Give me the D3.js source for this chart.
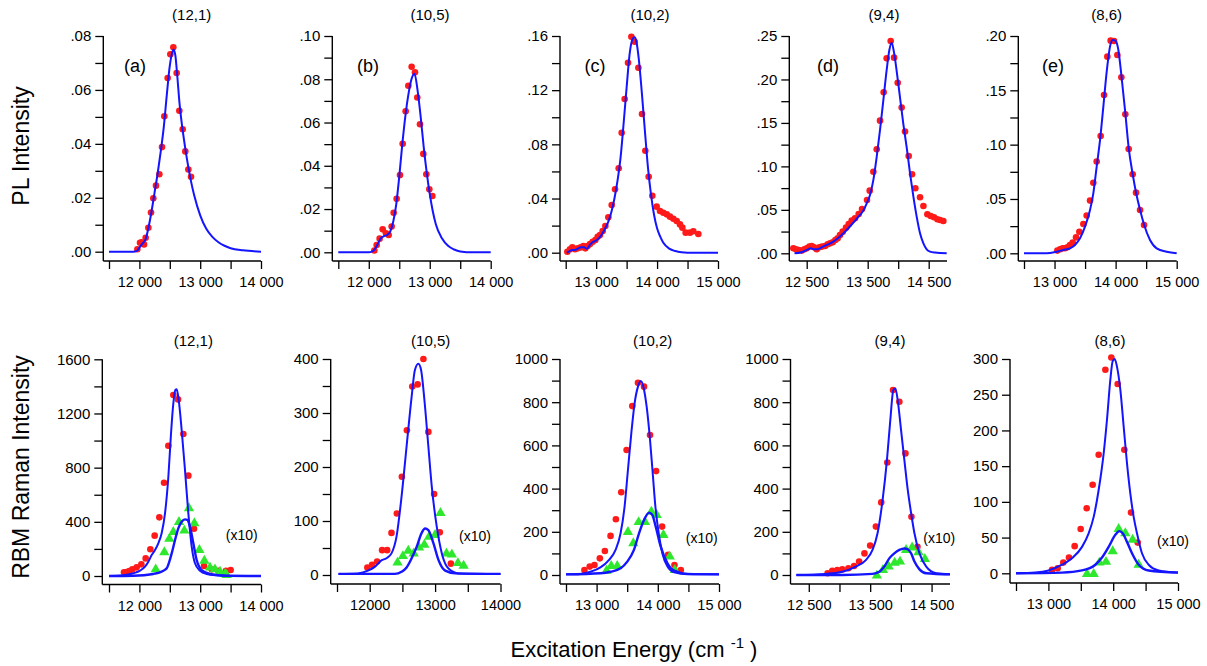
<!DOCTYPE html>
<html><head><meta charset="utf-8">
<script src="https://cdn.jsdelivr.net/npm/d3@7"></script>
<style>html,body{margin:0;padding:0;background:#fff;} svg{display:block;}</style>
</head><body><svg id="chart" width="1207" height="666"></svg>
<script>
// ---------------- DATA ----------------
const chiralities = ["(12,1)", "(10,5)", "(10,2)", "(9,4)", "(8,6)"];
const panelLetters = ["(a)", "(b)", "(c)", "(d)", "(e)"];
const yTitleTop = "PL Intensity";
const yTitleBottom = "RBM Raman Intensity";
const xTitle = "Excitation Energy (cm";
const xTitleSup = "-1";
const scaleNote = "(x10)";

// PL (top row): red dots = measured, blue = fit  [excitation cm-1, intensity]
const plA_dots = [[11966,0.0009],[12010,0.0033],[12037,0.0035],[12076,0.0027],[12103,0.0052],[12147,0.0089],[12191,0.0145],[12229,0.0198],[12273,0.0245],[12328,0.0287],[12372,0.0388],[12410,0.0502],[12465,0.0644],[12509,0.0732],[12558,0.0758],[12613,0.0663],[12657,0.0523],[12712,0.0454],[12755,0.0372],[12805,0.0305],[12849,0.0278]];
const plA_fit = [[11500,0],[11700,0],[11900,0],[11960,0.0003],[12000,0.0015],[12050,0.003],[12100,0.0045],[12150,0.009],[12200,0.015],[12250,0.022],[12300,0.029],[12350,0.037],[12400,0.046],[12450,0.058],[12500,0.069],[12530,0.073],[12560,0.075],[12590,0.073],[12620,0.066],[12660,0.055],[12700,0.047],[12750,0.039],[12800,0.032],[12850,0.026],[12900,0.021],[13000,0.0135],[13100,0.0085],[13200,0.0055],[13300,0.0035],[13400,0.0022],[13500,0.0013],[13700,0.0005],[14000,0]];

const plB_dots = [[12091,0.0008],[12129,0.0034],[12178,0.0063],[12228,0.0106],[12282,0.0088],[12326,0.0080],[12375,0.0119],[12408,0.0183],[12457,0.0247],[12512,0.0357],[12556,0.0502],[12605,0.0652],[12649,0.0770],[12703,0.0858],[12758,0.0832],[12796,0.0716],[12840,0.0592],[12895,0.0455],[12944,0.0361],[12993,0.0291],[13043,0.0260]];
const plB_fit = [[11500,0],[11800,0],[12000,0],[12050,0.0003],[12100,0.0015],[12150,0.004],[12200,0.0065],[12250,0.0075],[12300,0.008],[12350,0.0095],[12400,0.014],[12450,0.022],[12500,0.035],[12550,0.050],[12600,0.063],[12650,0.073],[12700,0.080],[12750,0.0825],[12800,0.075],[12850,0.063],[12900,0.049],[12950,0.037],[13000,0.027],[13050,0.019],[13100,0.013],[13200,0.0065],[13300,0.003],[13400,0.0013],[13500,0.0004],[13700,0],[14000,0]];

const plC_dots = [[12527,0.0007],[12571,0.0025],[12609,0.0039],[12653,0.0025],[12697,0.0032],[12746,0.0039],[12790,0.0049],[12823,0.0032],[12861,0.0049],[12899,0.0064],[12943,0.0081],[12987,0.0094],[13025,0.0118],[13063,0.0131],[13107,0.0160],[13151,0.0197],[13200,0.0261],[13255,0.0352],[13310,0.0468],[13370,0.0623],[13419,0.0886],[13468,0.1135],[13523,0.1403],[13578,0.1595],[13632,0.1558],[13693,0.1366],[13753,0.1024],[13807,0.0753],[13862,0.0561],[13922,0.0421],[13993,0.0340],[14048,0.0308],[14103,0.0295],[14158,0.0283],[14212,0.0266],[14267,0.0251],[14322,0.0234],[14376,0.0209],[14415,0.0185],[14469,0.0148],[14540,0.0148],[14595,0.0158],[14677,0.0138]];
const plC_fit = [[12520,0],[12560,0.001],[12600,0.002],[12650,0.002],[12700,0.003],[12750,0.004],[12800,0.004],[12850,0.003],[12900,0.006],[12950,0.008],[13000,0.009],[13050,0.011],[13100,0.014],[13150,0.018],[13200,0.023],[13250,0.030],[13300,0.040],[13350,0.053],[13400,0.070],[13450,0.095],[13500,0.122],[13550,0.147],[13600,0.158],[13630,0.159],[13660,0.156],[13700,0.143],[13750,0.118],[13800,0.090],[13850,0.063],[13900,0.043],[13950,0.028],[14000,0.018],[14050,0.012],[14100,0.0075],[14200,0.003],[14300,0.0012],[14400,0.0004],[14600,0],[15000,0]];

const plD_dots = [[12281,0.0058],[12325,0.0046],[12369,0.0038],[12418,0.0031],[12462,0.0046],[12500,0.0058],[12544,0.0077],[12582,0.0084],[12620,0.0069],[12664,0.0046],[12708,0.0069],[12751,0.0077],[12801,0.0084],[12844,0.0104],[12883,0.0115],[12926,0.0127],[12970,0.0153],[13008,0.0173],[13046,0.0211],[13090,0.0249],[13145,0.0295],[13189,0.0337],[13238,0.0376],[13292,0.0403],[13352,0.0452],[13407,0.0510],[13489,0.0613],[13533,0.0721],[13593,0.0939],[13648,0.1196],[13702,0.1526],[13762,0.1852],[13811,0.2243],[13877,0.2442],[13932,0.2251],[13992,0.1963],[14057,0.1676],[14112,0.1400],[14172,0.1120],[14227,0.0909],[14281,0.0748],[14358,0.0644],[14413,0.0544],[14478,0.0449],[14533,0.0429],[14587,0.0414],[14642,0.0391],[14686,0.0383],[14740,0.0372]];
const plD_fit = [[12300,0],[12418,0.0012],[12500,0.0038],[12571,0.0058],[12620,0.0046],[12675,0.0046],[12746,0.0069],[12828,0.0096],[12937,0.0134],[13046,0.0192],[13156,0.0268],[13265,0.0353],[13374,0.0441],[13429,0.0491],[13484,0.0575],[13538,0.0671],[13593,0.0844],[13648,0.1112],[13702,0.1419],[13757,0.1764],[13811,0.2109],[13855,0.2339],[13893,0.2423],[13932,0.2308],[13975,0.2097],[14030,0.1790],[14085,0.1484],[14139,0.1219],[14194,0.0920],[14249,0.0652],[14303,0.0422],[14358,0.0230],[14413,0.0115],[14467,0.0046],[14522,0.0019],[14604,0.0008],[14795,0]];

const plE_dots = [[13046,0.0025],[13090,0.0037],[13133,0.0046],[13171,0.0046],[13210,0.0055],[13253,0.0077],[13297,0.0098],[13352,0.0147],[13406,0.0199],[13472,0.0270],[13526,0.0347],[13581,0.0485],[13635,0.0650],[13690,0.0844],[13755,0.1080],[13810,0.1457],[13865,0.1810],[13919,0.1957],[13974,0.1954],[14028,0.1825],[14094,0.1620],[14159,0.1279],[14214,0.0960],[14279,0.0727],[14334,0.0558],[14400,0.0399],[14465,0.0261]];
const plE_fit = [[12500,0],[12871,0],[13035,0.0015],[13144,0.0031],[13253,0.0046],[13335,0.0077],[13417,0.0138],[13499,0.0245],[13581,0.0399],[13635,0.0552],[13690,0.0798],[13745,0.1043],[13799,0.1350],[13854,0.1672],[13908,0.1902],[13952,0.1963],[13996,0.1957],[14045,0.1871],[14094,0.1640],[14159,0.1290],[14214,0.0970],[14279,0.0730],[14334,0.0560],[14400,0.0400],[14465,0.0265],[14563,0.0123],[14672,0.0046],[14836,0.0015],[15000,0]];

// RBM Raman (bottom row): red = measured, green = measured (x10), blue = fits
const rbA_red = [[11747,27],[11791,30],[11834,37],[11884,49],[11955,64],[12032,86],[12103,130],[12180,197],[12251,298],[12328,433],[12405,689],[12476,962],[12558,1336],[12635,1304],[12723,1049],[12805,741],[12898,349],[13063,74],[13189,49],[13298,39],[13424,39],[13501,44]];
const rbA_green = [[12268,49],[12410,175],[12492,274],[12558,325],[12651,399],[12739,335],[12816,500],[12904,389],[12986,192],[13068,113],[13161,62],[13243,49],[13326,32],[13408,15],[13435,7]];
const rbA_fit = [[11500,0],[11736,5],[11900,20],[12010,39],[12092,69],[12147,106],[12202,155],[12257,192],[12311,241],[12366,315],[12421,462],[12476,731],[12520,1052],[12558,1274],[12591,1373],[12613,1378],[12646,1300],[12695,1078],[12750,782],[12805,462],[12860,217],[12914,94],[12997,39],[13106,15],[13271,5],[13545,0],[14000,0]];
const rbA_fit10 = [[11500,0],[11900,2],[12229,15],[12394,39],[12449,57],[12492,106],[12531,167],[12586,266],[12640,352],[12695,401],[12750,418],[12788,414],[12832,365],[12887,242],[12942,118],[13024,44],[13161,15],[13435,2],[14000,0]];

const rbB_red = [[11964,14],[12036,19],[12113,25],[12190,46],[12267,46],[12333,78],[12415,114],[12492,182],[12569,268],[12651,349],[12733,353],[12821,400],[12897,265],[12985,150],[13072,79],[13241,21]];
const rbB_green = [[12426,23],[12508,35],[12590,45],[12672,40],[12754,51],[12836,56],[12908,71],[13000,74],[13082,115],[13174,40],[13256,38],[13349,22],[13436,17]];
const rbB_fit = [[11523,2],[11821,3],[11974,8],[12077,15],[12179,27],[12256,31],[12333,40],[12410,71],[12487,145],[12564,238],[12641,330],[12692,380],[12744,391],[12785,380],[12836,325],[12897,238],[12949,164],[13026,89],[13103,40],[13205,12],[13359,3],[14000,2]];
const rbB_fit10 = [[11523,2],[12385,2],[12487,6],[12564,14],[12641,31],[12718,52],[12795,78],[12846,86],[12897,83],[12974,59],[13051,28],[13154,8],[13308,3],[14000,2]];

const rbC_red = [[12801,23],[12888,39],[12965,46],[13053,77],[13135,111],[13228,181],[13315,258],[13403,383],[13490,579],[13583,782],[13676,890],[13775,872],[13873,648],[13972,481],[14070,224],[14168,94],[14272,46],[14376,23]];
const rbC_green = [[13162,20],[13239,42],[13337,42],[13512,199],[13600,147],[13687,245],[13791,245],[13895,293],[13982,278],[14092,185],[14196,85],[14278,23]];
const rbC_fit = [[12500,3],[12735,5],[12899,15],[13063,35],[13200,69],[13310,116],[13392,193],[13457,316],[13512,486],[13567,656],[13621,795],[13676,872],[13720,898],[13764,872],[13818,779],[13873,625],[13917,471],[13961,316],[14015,193],[14075,100],[14158,39],[14267,12],[14486,3],[15000,3]];
const rbC_fit10 = [[12500,3],[13063,8],[13228,15],[13392,31],[13501,62],[13610,116],[13693,193],[13775,255],[13857,289],[13911,278],[13966,224],[14048,131],[14158,54],[14267,20],[14486,5],[15000,3]];

const rbD_red = [[12806,8],[12883,20],[12964,23],[13046,26],[13145,31],[13238,42],[13320,62],[13407,100],[13500,136],[13593,224],[13680,336],[13779,521],[13872,856],[13975,802],[14074,563],[14172,270],[14270,131]];
const rbD_green = [[13609,-3],[13708,23],[13801,39],[13899,57],[13986,62],[14085,116],[14183,127],[14287,105],[14391,74]];
const rbD_fit = [[12298,0],[12773,5],[13046,15],[13265,39],[13429,69],[13538,116],[13620,193],[13702,347],[13773,532],[13828,718],[13877,856],[13910,864],[13948,810],[14003,671],[14057,532],[14112,394],[14167,286],[14221,193],[14303,100],[14413,39],[14577,8],[14800,3]];
const rbD_fit10 = [[12298,0],[13046,0],[13538,5],[13648,15],[13730,39],[13811,77],[13893,100],[13975,116],[14057,123],[14112,119],[14167,100],[14221,62],[14303,26],[14413,8],[14800,3]];

const rbE_red = [[13056,5],[13143,7],[13230,15],[13318,22],[13405,38],[13498,62],[13591,91],[13683,124],[13776,166],[13879,285],[13971,302],[14069,265],[14172,173],[14275,85],[14378,43]];
const rbE_green = [[13596,-1],[13699,-1],[13786,15],[13889,16],[13992,31],[14084,62],[14187,56],[14300,47],[14393,12]];
const rbE_fit = [[12500,0],[12798,1],[13004,4],[13210,12],[13364,21],[13519,37],[13621,56],[13699,79],[13776,117],[13853,168],[13904,215],[13956,271],[13992,297],[14023,300],[14059,289],[14110,257],[14162,205],[14213,154],[14264,112],[14316,79],[14367,56],[14444,28],[14547,12],[14702,4],[15000,1]];
const rbE_fit10 = [[12500,0],[13210,1],[13519,4],[13724,12],[13827,22],[13930,37],[14033,54],[14095,59],[14146,56],[14213,44],[14290,28],[14393,12],[14547,4],[15000,1]];

// Tick values and labels
const xTicksAB = [11500, 12000, 12500, 13000, 13500, 14000];
const xLabelsAB = ["", "12 000", "", "13 000", "", "14 000"];
const xLabelsABnoSpace = ["", "12000", "", "13000", "", "14000"];
const xTicksCE = [12500, 13000, 13500, 14000, 14500, 15000];
const xLabelsCE = ["", "13 000", "", "14 000", "", "15 000"];
const xTicksD = [12500, 13000, 13500, 14000, 14500];
const xLabelsD = ["12 500", "", "13 500", "", "14 500"];

const yTicksPlA = [0, .01, .02, .03, .04, .05, .06, .07, .08];
const yLabelsPlA = [".00", "", ".02", "", ".04", "", ".06", "", ".08"];
const yTicksPlB = [0, .01, .02, .03, .04, .05, .06, .07, .08, .09, .10];
const yLabelsPlB = [".00", "", ".02", "", ".04", "", ".06", "", ".08", "", ".10"];
const yTicksPlC = [0, .02, .04, .06, .08, .10, .12, .14, .16];
const yLabelsPlC = [".00", "", ".04", "", ".08", "", ".12", "", ".16"];
const yTicksPlD = [0, .025, .05, .075, .10, .125, .15, .175, .20, .225, .25];
const yLabelsPlD = [".00", "", ".05", "", ".10", "", ".15", "", ".20", "", ".25"];
const yTicksPlE = [0, .025, .05, .075, .10, .125, .15, .175, .20];
const yLabelsPlE = [".00", "", ".05", "", ".10", "", ".15", "", ".20"];

const yTicksRbA = [0, 200, 400, 600, 800, 1000, 1200, 1400, 1600];
const yLabelsRbA = ["0", "", "400", "", "800", "", "1200", "", "1600"];
const yTicksRbB = [0, 50, 100, 150, 200, 250, 300, 350, 400];
const yLabelsRbB = ["0", "", "100", "", "200", "", "300", "", "400"];
const yTicksRbCD = [0, 100, 200, 300, 400, 500, 600, 700, 800, 900, 1000];
const yLabelsRbCD = ["0", "", "200", "", "400", "", "600", "", "800", "", "1000"];
const yTicksRbE = [0, 50, 100, 150, 200, 250, 300];
const yLabelsRbE = ["0", "50", "100", "150", "200", "250", "300"];

// ---------------- LAYOUT ----------------
const FONT = "'Liberation Sans', Arial, Helvetica, sans-serif";
const BLUE = "#1414ff", RED = "#ff1a1a", GREEN = "#2ee82e";

const panels = [
  // top row (PL)
  {xDomain:[11500,14000], xRange:[109,261], yMax:0.08, yRange:[251.7,36], axisX:103.3, axisY:261,
   xTicks:xTicksAB, xLabels:xLabelsAB, yTicks:yTicksPlA, yLabels:yLabelsPlA,
   title:chiralities[0], titleX:191.7, titleY:20, letter:panelLetters[0], letterX:135, letterY:72,
   dots:plA_dots, fits:[plA_fit]},
  {xDomain:[11500,14000], xRange:[338.3,490.7], yMax:0.10, yRange:[252.3,36], axisX:332.3, axisY:261,
   xTicks:xTicksAB, xLabels:xLabelsAB, yTicks:yTicksPlB, yLabels:yLabelsPlB,
   title:chiralities[1], titleX:430, titleY:20, letter:panelLetters[1], letterX:368, letterY:72,
   dots:plB_dots, fits:[plB_fit]},
  {xDomain:[12500,15000], xRange:[565.7,718], yMax:0.16, yRange:[252.7,36], axisX:560, axisY:261,
   xTicks:xTicksCE, xLabels:xLabelsCE, yTicks:yTicksPlC, yLabels:yLabelsPlC,
   title:chiralities[2], titleX:650, titleY:20, letter:panelLetters[2], letterX:595, letterY:72,
   dots:plC_dots, fits:[plC_fit]},
  {xDomain:[12300,14800], xRange:[794.5,947], yMax:0.25, yRange:[253.3,36], axisX:789.3, axisY:261,
   xTicks:xTicksD, xLabels:xLabelsD, yTicks:yTicksPlD, yLabels:yLabelsPlD,
   title:chiralities[3], titleX:884, titleY:20, letter:panelLetters[3], letterX:828, letterY:72,
   dots:plD_dots, fits:[plD_fit]},
  {xDomain:[12500,15000], xRange:[1024,1176.7], yMax:0.20, yRange:[253.3,36], axisX:1018.3, axisY:261,
   xTicks:xTicksCE, xLabels:xLabelsCE, yTicks:yTicksPlE, yLabels:yLabelsPlE,
   title:chiralities[4], titleX:1106.7, titleY:20, letter:panelLetters[4], letterX:1053, letterY:72,
   dots:plE_dots, fits:[plE_fit]},
  // bottom row (RBM Raman)
  {xDomain:[11500,14000], xRange:[109,261], yMax:1600, yRange:[576,359.3], axisX:102.3, axisY:584.5,
   xTicks:xTicksAB, xLabels:xLabelsAB, yTicks:yTicksRbA, yLabels:yLabelsRbA,
   title:chiralities[0], titleX:193.3, titleY:346, note:scaleNote, noteX:241.7, noteY:540,
   dots:rbA_red, tris:rbA_green, fits:[rbA_fit, rbA_fit10]},
  {xDomain:[11500,14000], xRange:[337,500.5], yMax:400, yRange:[575,359], axisX:330.7, axisY:584,
   xTicks:xTicksAB, xLabels:xLabelsABnoSpace, yTicks:yTicksRbB, yLabels:yLabelsRbB,
   title:chiralities[1], titleX:430.7, titleY:346, note:scaleNote, noteX:475, noteY:541,
   dots:rbB_red, tris:rbB_green, fits:[rbB_fit, rbB_fit10]},
  {xDomain:[12500,15000], xRange:[566,719], yMax:1000, yRange:[575,359], axisX:560, axisY:584,
   xTicks:xTicksCE, xLabels:xLabelsCE, yTicks:yTicksRbCD, yLabels:yLabelsRbCD,
   title:chiralities[2], titleX:652.7, titleY:346, note:scaleNote, noteX:701.7, noteY:543,
   dots:rbC_red, tris:rbC_green, fits:[rbC_fit, rbC_fit10]},
  {xDomain:[12300,14800], xRange:[796.5,950], yMax:1000, yRange:[575,359], axisX:790.5, axisY:584,
   xTicks:xTicksD, xLabels:xLabelsD, yTicks:yTicksRbCD, yLabels:yLabelsRbCD,
   title:chiralities[3], titleX:890, titleY:346, note:scaleNote, noteX:939.3, noteY:543,
   dots:rbD_red, tris:rbD_green, fits:[rbD_fit, rbD_fit10]},
  {xDomain:[12500,15000], xRange:[1016,1178], yMax:300, yRange:[573.3,359], axisX:1010, axisY:583,
   xTicks:xTicksCE, xLabels:xLabelsCE, yTicks:yTicksRbE, yLabels:yLabelsRbE,
   title:chiralities[4], titleX:1110, titleY:346, note:scaleNote, noteX:1173, noteY:546,
   dots:rbE_red, tris:rbE_green, fits:[rbE_fit, rbE_fit10]}
];

// ---------------- DRAW ----------------
const svg = d3.select("#chart");
svg.append("rect").attr("width", 1207).attr("height", 666).attr("fill", "#fff");

function styleAxis(g, size) {
  g.attr("font-family", FONT).attr("font-size", size);
  g.selectAll(".tick line").attr("stroke", "#000").attr("stroke-width", 1.3);
  g.selectAll(".tick text").attr("fill", "#000");
  g.select(".domain").remove();
}

panels.forEach(p => {
  const x = d3.scaleLinear().domain(p.xDomain).range(p.xRange);
  const y = d3.scaleLinear().domain([0, p.yMax]).range(p.yRange);
  const g = svg.append("g");

  const xAxis = d3.axisBottom(x).tickValues(p.xTicks)
    .tickFormat((d, i) => p.xLabels[i]).tickSize(8).tickSizeOuter(0).tickPadding(8);
  const gx = g.append("g").attr("transform", `translate(0,${p.axisY})`).call(xAxis);
  styleAxis(gx, 14.5);
  gx.append("line").attr("x1", p.axisX).attr("x2", p.xRange[1]).attr("y1", 0).attr("y2", 0)
    .attr("stroke", "#000").attr("stroke-width", 1.4);

  const yAxis = d3.axisLeft(y).tickValues(p.yTicks)
    .tickFormat((d, i) => p.yLabels[i]).tickSize(8).tickSizeOuter(0).tickPadding(4);
  const gy = g.append("g").attr("transform", `translate(${p.axisX},0)`).call(yAxis);
  styleAxis(gy, 15);
  gy.append("line").attr("x1", 0).attr("x2", 0).attr("y1", p.yRange[1]).attr("y2", p.axisY)
    .attr("stroke", "#000").attr("stroke-width", 1.4);

  // markers
  g.append("g").selectAll("circle").data(p.dots).join("circle")
    .attr("cx", d => x(d[0])).attr("cy", d => y(d[1])).attr("r", 3.3).attr("fill", RED);
  if (p.tris) {
    const tri = d3.symbol(d3.symbolTriangle, 46);
    g.append("g").selectAll("path").data(p.tris).join("path")
      .attr("d", tri).attr("transform", d => `translate(${x(d[0])},${y(d[1])})`).attr("fill", GREEN);
  }
  // fit curves
  const line = d3.line().x(d => x(d[0])).y(d => y(d[1])).curve(d3.curveMonotoneX);
  p.fits.forEach((f, i) => {
    g.append("path").attr("d", line(f)).attr("fill", "none").attr("stroke", BLUE)
      .attr("stroke-width", i === 0 ? 2 : 2.4).attr("stroke-linejoin", "round");
  });

  g.append("text").attr("x", p.titleX).attr("y", p.titleY).attr("text-anchor", "middle")
    .attr("font-family", FONT).attr("font-size", 15).text(p.title);
  if (p.letter) {
    g.append("text").attr("x", p.letterX).attr("y", p.letterY).attr("text-anchor", "middle")
      .attr("font-family", FONT).attr("font-size", 18).text(p.letter);
  }
  if (p.note) {
    g.append("text").attr("x", p.noteX).attr("y", p.noteY).attr("text-anchor", "middle")
      .attr("font-family", FONT).attr("font-size", 14).text(p.note);
  }
});

// axis titles
svg.append("text").attr("transform", "translate(29,146) rotate(-90)").attr("text-anchor", "middle")
  .attr("font-family", FONT).attr("font-size", 23).text(yTitleTop);
svg.append("text").attr("transform", "translate(29,467) rotate(-90)").attr("text-anchor", "middle")
  .attr("font-family", FONT).attr("font-size", 23).text(yTitleBottom);

const xt = svg.append("text").attr("x", 634).attr("y", 657).attr("text-anchor", "middle")
  .attr("font-family", FONT).attr("font-size", 22);
xt.append("tspan").text(xTitle + " ");
xt.append("tspan").attr("font-size", 15).attr("dy", -9).text(xTitleSup);
xt.append("tspan").attr("dy", 9).text(" )");
</script>
</body></html>
